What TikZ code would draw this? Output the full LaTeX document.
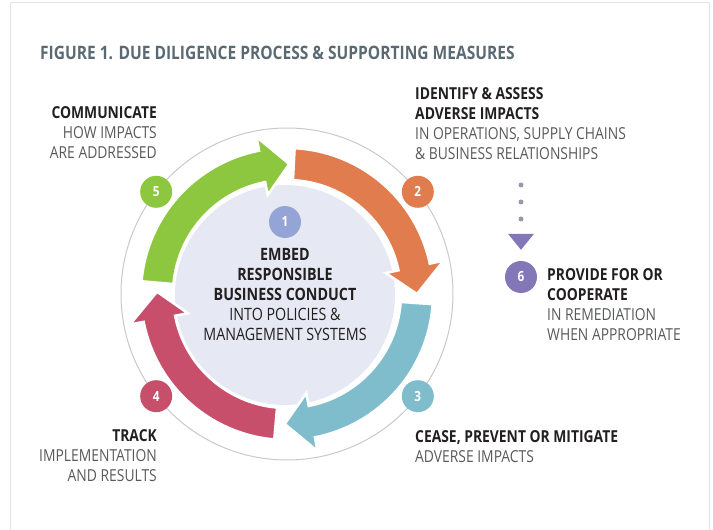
\documentclass[tikz,border=0pt]{standalone}
\usepackage{fontspec}
\setmainfont{Open Sans}[FakeStretch=0.84]
\usetikzlibrary{arrows.meta}

\definecolor{stepgreen}{HTML}{8DC63F}
\definecolor{steporange}{HTML}{E07C4E}
\definecolor{stepblue}{HTML}{80BDCC}
\definecolor{stepred}{HTML}{C84F6C}
\definecolor{steppurple}{HTML}{8377B8}
\definecolor{stepnavy}{HTML}{95A4D6}
\definecolor{diskfill}{HTML}{E6E9F3}
\definecolor{ringgrey}{HTML}{C9C9CD}
\definecolor{framegrey}{HTML}{E3E3EA}
\definecolor{inkdark}{HTML}{231F20}
\definecolor{subgrey}{HTML}{58595B}
\definecolor{titlegrey}{HTML}{5B6A72}
\definecolor{dotgrey}{HTML}{9A98A8}

\tikzset{badge/.style={circle, fill=#1, text=white, font=\bfseries\fontsize{14}{14}\selectfont,
    minimum size=32pt, inner sep=0pt},
  labeltext/.style={font=\fontsize{16.5}{20}\selectfont, text=inkdark, inner sep=0pt},
  %dots running down to step 6
  dotline/.style={dotgrey, line width=5pt, line cap=round, dash pattern=on 0pt off 17pt,
    -{Triangle[width=26pt,length=16pt,color=steppurple,fill=steppurple,line width=0pt]}}}

\begin{document}
\begin{tikzpicture}[x=1pt,y=1pt]

    \useasboundingbox (-287,-236) rectangle (426,294);
    \draw[framegrey, line width=1pt] (-276,-240) |- (422,291) -- (422,-240);

    \node[anchor=west, inner sep=0pt, text=titlegrey, font=\bfseries\fontsize{18.5}{20}\selectfont] (title)
      at (-247,241) {FIGURE 1. DUE DILIGENCE PROCESS \& SUPPORTING MEASURES};

    \draw[ringgrey, line width=1pt] (0,0) circle (166);
    \fill[diskfill] (-2,-1) circle (110);

    \foreach \a/\b/\col in {175/89/stepgreen, 87/0/steporange, -4/-91/stepblue, -95/-181/stepred}
    {
      \pgfmathsetmacro\h{\b+12}
      \filldraw[fill=\col, draw=white, line width=2.5pt, line join=miter]
        (\a:146) arc[start angle=\a, end angle=\h, radius=146] -- (\h:160) -- (\b:130)
        -- (\h:101) -- (\h:114) arc[start angle=\h, end angle=\a, radius=114] -- cycle;
    }

    \node[badge=stepnavy] (s1) at (-2,72) {1};
    \node[badge=steporange] (s2) at (38:166) {2};
    \node[badge=stepblue] (s3) at (-38:166) {3};
    \node[badge=stepred] (s4) at (-142:166) {4};
    \node[badge=stepgreen] (s5) at (142:166) {5};
    \node[badge=steppurple] (s6) at (234,17) {6};

    \node[labeltext, align=center, font=\fontsize{17}{20}\selectfont] (embed) at (-2,-1)
      {\textbf{EMBED}\\\textbf{RESPONSIBLE}\\\textbf{BUSINESS CONDUCT}\\INTO POLICIES \&\\MANAGEMENT SYSTEMS};

    \node[labeltext, align=right, anchor=east] (communicate) at (-130,161)
      {\textbf{COMMUNICATE}\\\textcolor{subgrey}{HOW IMPACTS}\\\textcolor{subgrey}{ARE ADDRESSED}};
    \node[labeltext, align=left, anchor=west] (identify) at (128,170)
      {\textbf{IDENTIFY \& ASSESS}\\\textbf{ADVERSE IMPACTS}\\\textcolor{subgrey}{IN OPERATIONS, SUPPLY CHAINS}\\\textcolor{subgrey}{\& BUSINESS RELATIONSHIPS}};
    \node[labeltext, align=right, anchor=east] (track) at (-130,-162)
      {\textbf{TRACK}\\\textcolor{subgrey}{IMPLEMENTATION}\\\textcolor{subgrey}{AND RESULTS}};
    \node[labeltext, align=left, anchor=west] (cease) at (128,-152.5)
      {\textbf{CEASE, PREVENT OR MITIGATE}\\\textcolor{subgrey}{ADVERSE IMPACTS}};
    \node[labeltext, align=left, anchor=west] (provide) at (260,-10.5)
      {\textbf{PROVIDE FOR OR}\\\textbf{COOPERATE}\\\textcolor{subgrey}{IN REMEDIATION}\\\textcolor{subgrey}{WHEN APPROPRIATE}};

    \coordinate (dtop) at (234,109);
    \draw[dotline, shorten >=11pt] (dtop) -- (s6);

  \end{tikzpicture}
\end{document}
